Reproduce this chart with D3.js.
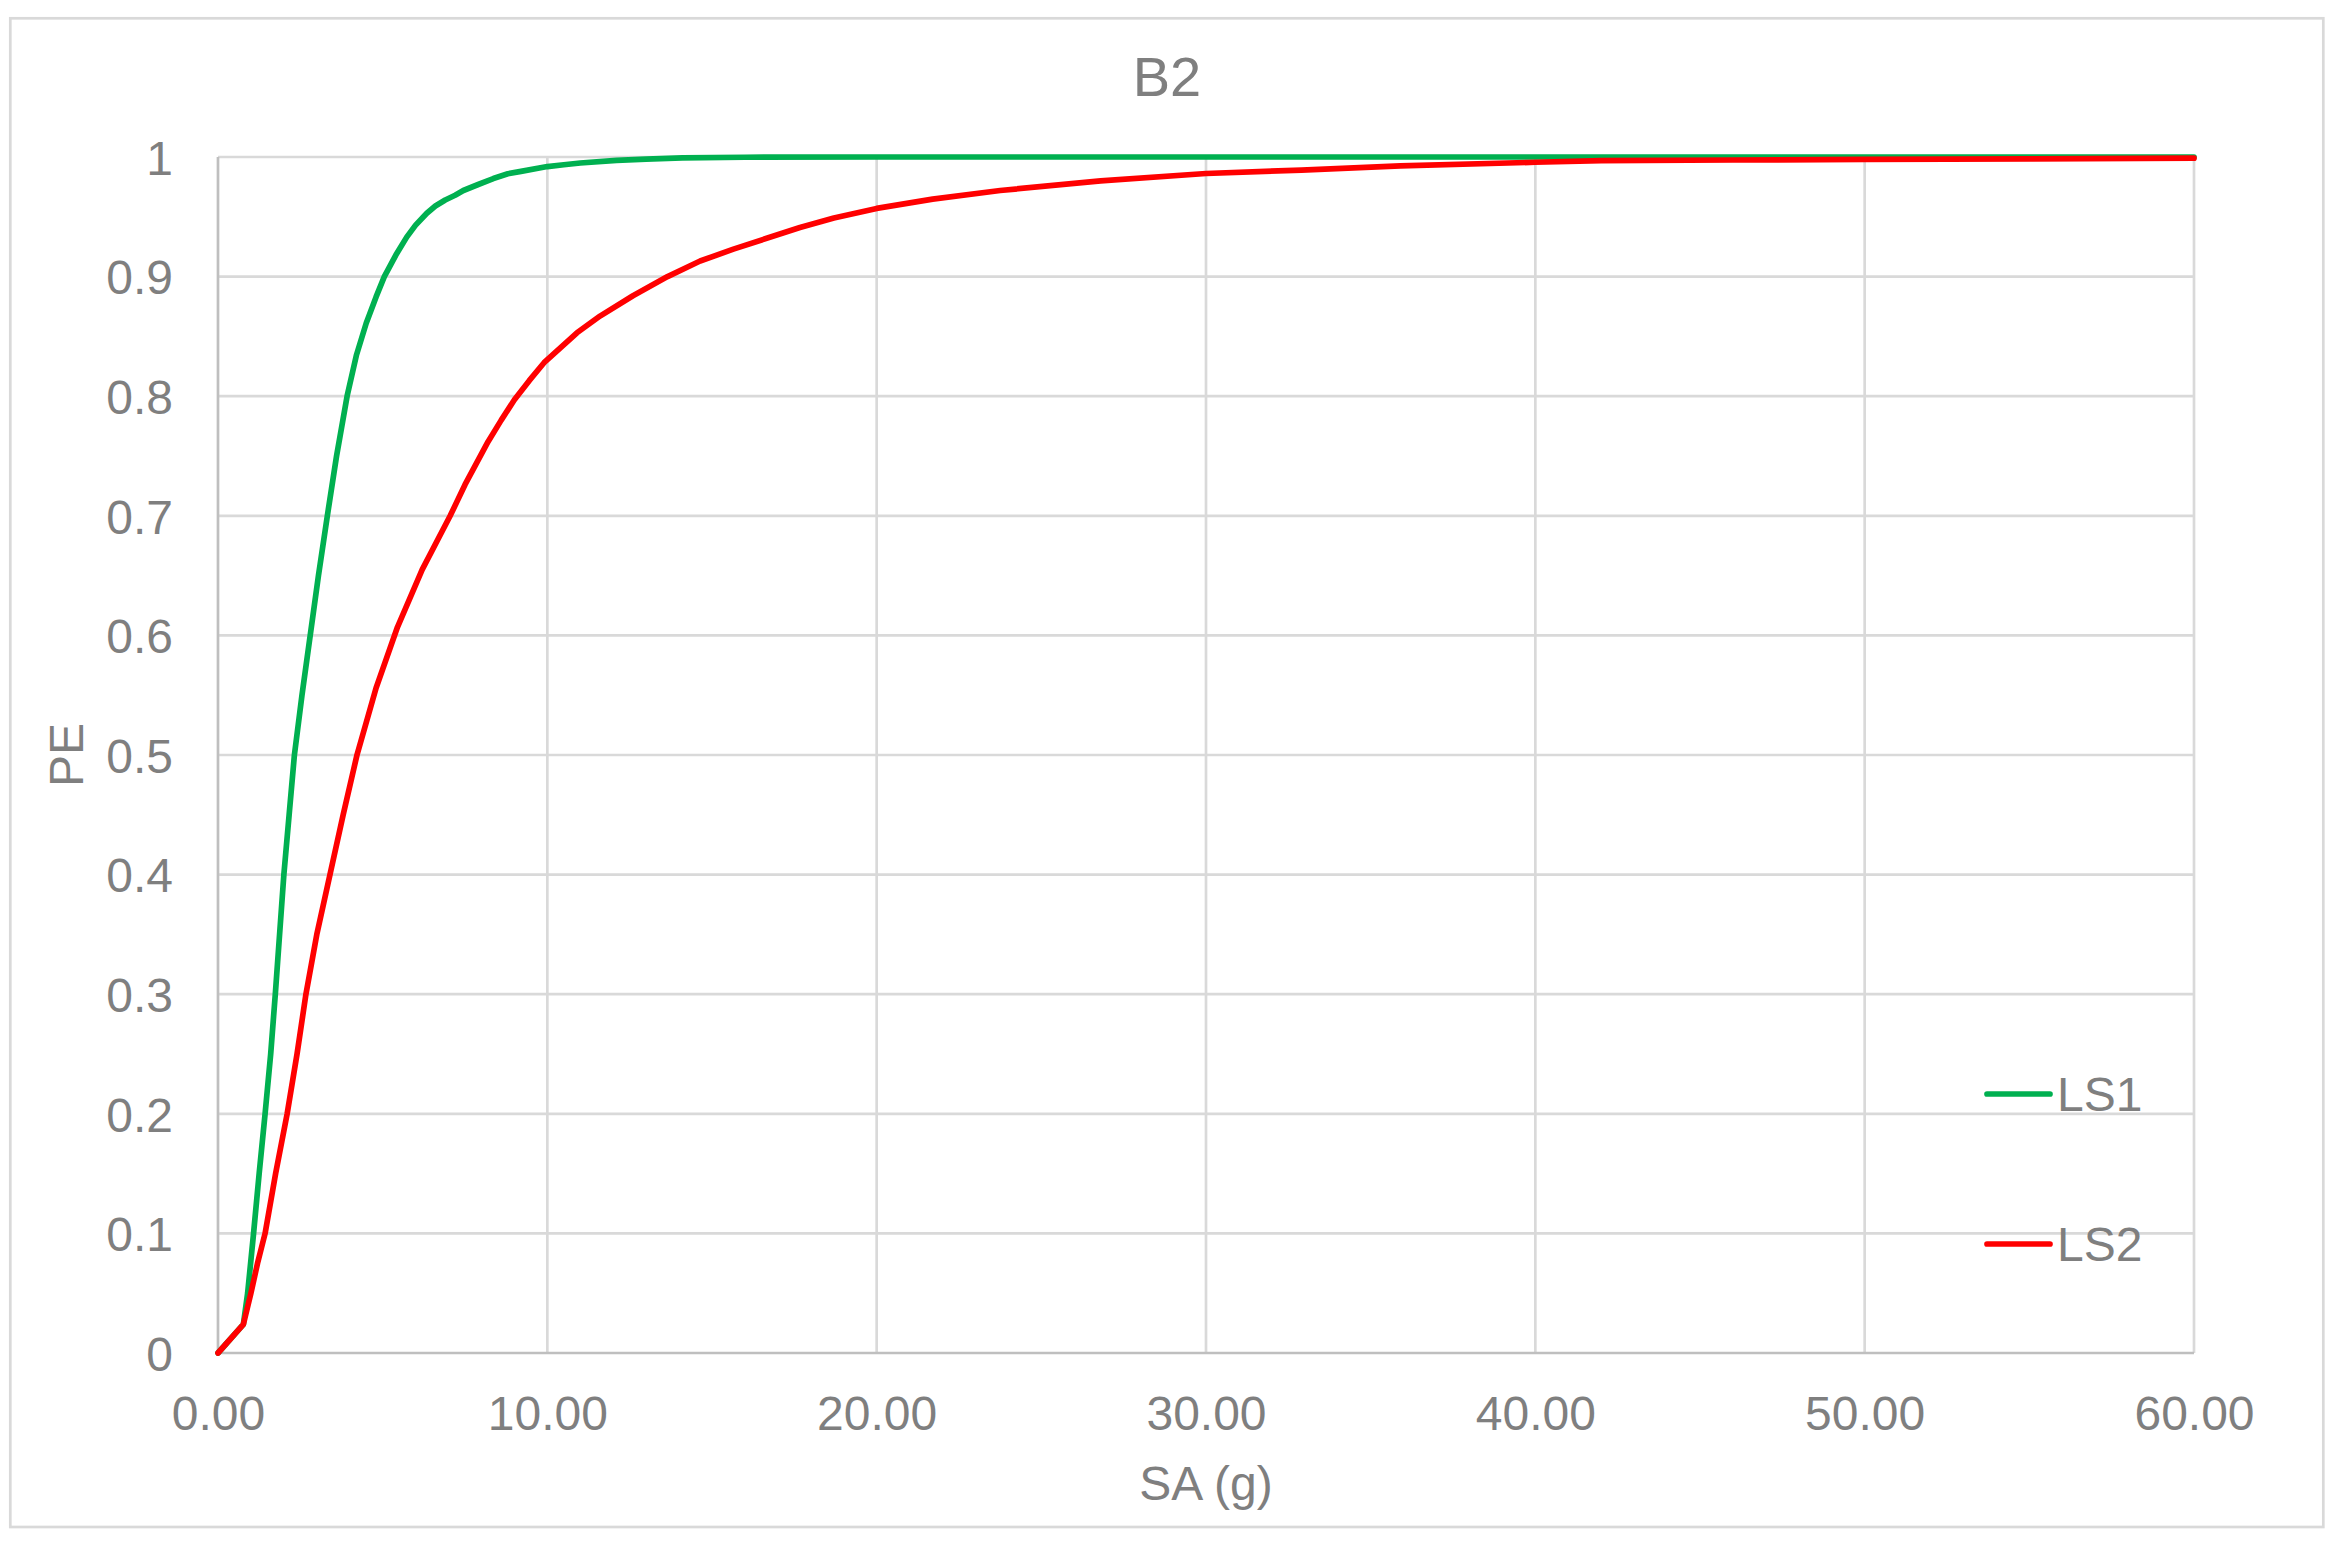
<!DOCTYPE html>
<html>
<head>
<meta charset="utf-8">
<script src="https://cdn.jsdelivr.net/npm/d3@7"></script>
<style>
  html, body { margin: 0; padding: 0; background: #ffffff; }
  svg { display: block; }
  text { font-family: "Liberation Sans", Arial, sans-serif; fill: #7f7f7f; }
</style>
</head>
<body>
<svg id="chart" width="2344" height="1545"></svg>
<script>
// ---- Data ----
const chartTitle = "B2";
const xAxisTitle = "SA (g)";
const yAxisTitle = "PE";
const seriesNames = ["LS1", "LS2"];
const seriesColors = ["#00b050", "#ff0000"];

const xTicks = [0, 10, 20, 30, 40, 50, 60];
const yTicks = [0, 0.1, 0.2, 0.3, 0.4, 0.5, 0.6, 0.7, 0.8, 0.9, 1];

// LS1 (green): SA values and PE values
const ls1SA = [0, 0.77, 0.9, 1.08, 1.25, 1.43, 1.6, 1.74, 1.87, 2.0, 2.16, 2.32, 2.55, 2.8, 3.05, 3.32, 3.6, 3.92, 4.2, 4.5, 4.8, 5.05, 5.4, 5.73, 6.0, 6.34, 6.6, 6.9, 7.2, 7.45, 7.9, 8.36, 8.8, 9.2, 10.0, 10.5, 11.0, 12.1, 13.0, 14.1, 16, 20, 30, 40, 50, 60];
const ls1PE = [0, 0.024, 0.05, 0.10, 0.15, 0.20, 0.25, 0.30, 0.35, 0.40, 0.45, 0.50, 0.55, 0.60, 0.65, 0.70, 0.75, 0.80, 0.834, 0.861, 0.883, 0.90, 0.918, 0.933, 0.943, 0.953, 0.959, 0.964, 0.968, 0.972, 0.977, 0.982, 0.986, 0.988, 0.992, 0.9935, 0.995, 0.9972, 0.9983, 0.9992, 0.9998, 1, 1, 1, 1, 1];

// LS2 (red): SA values and PE values
const ls2SA = [0, 0.77, 1.0, 1.2, 1.43, 1.75, 2.1, 2.4, 2.67, 3.0, 3.4, 3.8, 4.22, 4.8, 5.45, 6.2, 7.05, 7.5, 8.2, 8.6, 9.0, 9.45, 9.9, 10.9, 11.6, 12.6, 13.65, 14.64, 15.65, 16.66, 17.67, 18.7, 20, 21.7, 23.75, 26.8, 30, 32.9, 35.9, 40, 42, 46, 50, 55, 60];
const ls2PE = [0, 0.024, 0.05, 0.075, 0.10, 0.15, 0.20, 0.25, 0.30, 0.35, 0.40, 0.45, 0.50, 0.556, 0.607, 0.655, 0.70, 0.726, 0.762, 0.780, 0.797, 0.813, 0.828, 0.853, 0.867, 0.884, 0.90, 0.913, 0.923, 0.932, 0.941, 0.949, 0.957, 0.9648, 0.972, 0.98, 0.9862, 0.9891, 0.9925, 0.9956, 0.997, 0.9975, 0.998, 0.9985, 0.999];

// ---- Layout ----
const plot = { left: 218, right: 2194, top: 157, bottom: 1353 };

const svg = d3.select("#chart");

const x = d3.scaleLinear().domain([0, 60]).range([plot.left, plot.right]);
const y = d3.scaleLinear().domain([0, 1]).range([plot.bottom, plot.top]);

// outer border
svg.append("rect")
  .attr("x", 10.3).attr("y", 18.3)
  .attr("width", 2313).attr("height", 1508.7)
  .attr("fill", "#ffffff")
  .attr("stroke", "#d9d9d9").attr("stroke-width", 2.7);

// gridlines
const grid = svg.append("g");
grid.selectAll("line.h").data(yTicks.filter(d => d > 0)).enter().append("line")
  .attr("x1", plot.left).attr("x2", plot.right)
  .attr("y1", d => y(d)).attr("y2", d => y(d))
  .attr("stroke", "#d9d9d9").attr("stroke-width", 2.7);
grid.selectAll("line.v").data(xTicks.filter(d => d > 0)).enter().append("line")
  .attr("y1", plot.top).attr("y2", plot.bottom)
  .attr("x1", d => x(d)).attr("x2", d => x(d))
  .attr("stroke", "#d9d9d9").attr("stroke-width", 2.7);

// axes lines
svg.append("line")
  .attr("x1", plot.left).attr("x2", plot.left)
  .attr("y1", plot.top).attr("y2", plot.bottom)
  .attr("stroke", "#bfbfbf").attr("stroke-width", 2.7);
svg.append("line")
  .attr("x1", plot.left).attr("x2", plot.right)
  .attr("y1", plot.bottom).attr("y2", plot.bottom)
  .attr("stroke", "#bfbfbf").attr("stroke-width", 2.7);

// axis tick labels
const xAxis = d3.axisBottom(x).tickValues(xTicks).tickSize(0).tickPadding(43)
  .tickFormat(d3.format(".2f"));
const gx = svg.append("g").attr("transform", `translate(0,${plot.bottom})`).call(xAxis);
gx.select(".domain").remove();
gx.selectAll("text").attr("font-size", 48).attr("fill", "#7f7f7f")
  .style("font-family", '"Liberation Sans", Arial, sans-serif');

const yAxis = d3.axisLeft(y).tickValues(yTicks).tickSize(0).tickPadding(45)
  .tickFormat(d => String(+d.toFixed(1)));
const gy = svg.append("g").attr("transform", `translate(${plot.left},0)`).call(yAxis);
gy.select(".domain").remove();
gy.selectAll("text").attr("font-size", 48).attr("fill", "#7f7f7f").attr("dy", "0.36em")
  .style("font-family", '"Liberation Sans", Arial, sans-serif');

// series
const line = d3.line().x(d => x(d[0])).y(d => y(d[1])).curve(d3.curveLinear);
const series = [
  ls1SA.map((v, i) => [v, ls1PE[i]]),
  ls2SA.map((v, i) => [v, ls2PE[i]])
];
series.forEach((pts, i) => {
  svg.append("path")
    .attr("d", line(pts))
    .attr("fill", "none")
    .attr("stroke", seriesColors[i])
    .attr("stroke-width", 5.7)
    .attr("stroke-linejoin", "round")
    .attr("stroke-linecap", "round");
});

// title
svg.append("text")
  .attr("x", 1167).attr("y", 96)
  .attr("text-anchor", "middle")
  .attr("font-size", 56)
  .text(chartTitle);

// axis titles
svg.append("text")
  .attr("x", (plot.left + plot.right) / 2).attr("y", 1500)
  .attr("text-anchor", "middle")
  .attr("font-size", 48)
  .text(xAxisTitle);

svg.append("text")
  .attr("transform", `translate(83,${(plot.top + plot.bottom) / 2}) rotate(-90)`)
  .attr("text-anchor", "middle")
  .attr("font-size", 48)
  .text(yAxisTitle);

// legend
const legendY = [1094, 1244];
seriesNames.forEach((name, i) => {
  svg.append("line")
    .attr("x1", 1987).attr("x2", 2050)
    .attr("y1", legendY[i]).attr("y2", legendY[i])
    .attr("stroke", seriesColors[i]).attr("stroke-width", 5.7)
    .attr("stroke-linecap", "round");
  svg.append("text")
    .attr("x", 2057).attr("y", legendY[i] + 17)
    .attr("font-size", 48)
    .text(name);
});
</script>
</body>
</html>
